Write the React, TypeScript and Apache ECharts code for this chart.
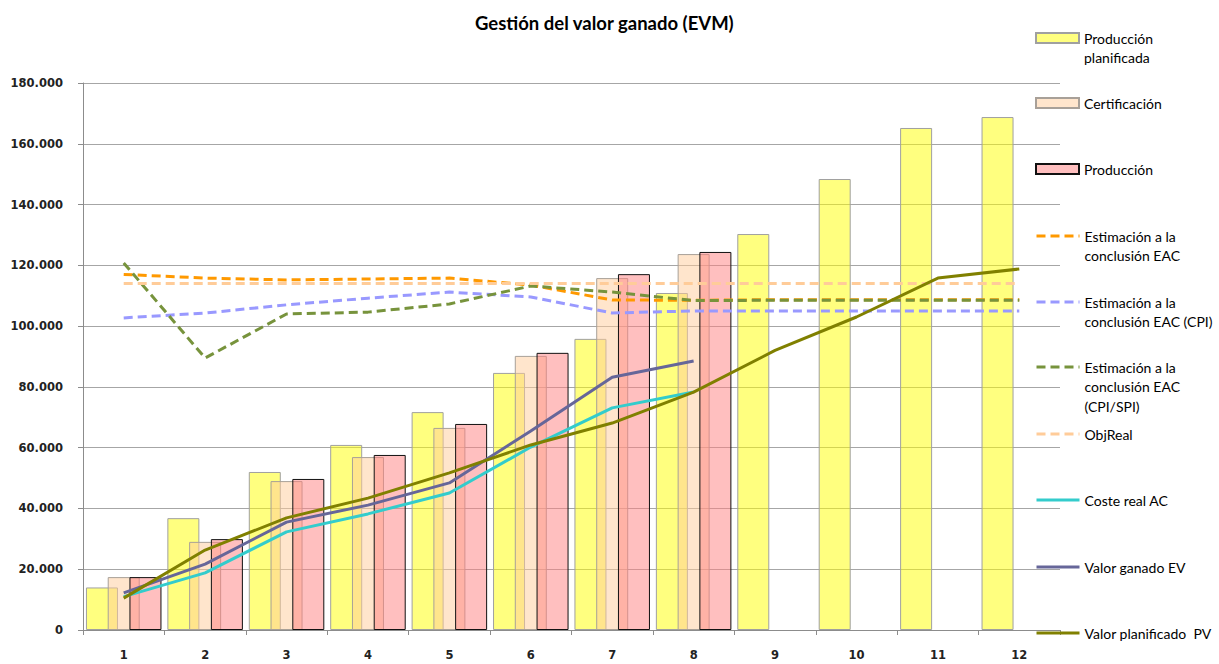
import React, { useEffect, useRef } from "react";
import * as echarts from "echarts";

const categories = ["1", "2", "3", "4", "5", "6", "7", "8", "9", "10", "11", "12"];
const producionPlanificada = [14000, 36800, 52000, 60900, 71700, 84600, 95800, 110900, 130300, 148400, 165200, 168800];
const certificacion = [17400, 29000, 49000, 56900, 66500, 90200, 115800, 123700, null, null, null, null];
const produccion = [17400, 29900, 49700, 57600, 67800, 91200, 117100, 124400, null, null, null, null];
const eac = [117000, 115800, 115200, 115500, 115800, 113500, 108600, 108500, 108700, 108700, 108700, 108700];
const eacCpi = [102700, 104300, 107000, 109200, 111200, 109600, 104300, 105000, 105000, 105000, 105000, 105000];
const eacCpiSpi = [120800, 89500, 104000, 104600, 107300, 113200, 111200, 108400, 108500, 108500, 108500, 108500];
const objReal = [114000, 114000, 114000, 114000, 114000, 114000, 114000, 114000, 114000, 114000, 114000, 114000];
const costeReal = [11000, 18800, 32300, 38200, 45100, 60200, 73100, 78300, null, null, null, null];
const valorGanado = [12200, 21700, 35500, 41100, 48400, 65500, 83200, 88500, null, null, null, null];
const valorPlanificado = [10500, 26300, 36900, 43400, 51700, 60900, 68100, 78300, 92000, 103000, 115800, 118800];

const N = {
  pp: "Producción\nplanificada",
  cert: "Certificación",
  prod: "Producción",
  eac: "Estimación a la\nconclusión EAC",
  cpi: "Estimación a la\nconclusión EAC (CPI)",
  cpispi: "Estimación a la\nconclusión EAC\n(CPI/SPI)",
  obj: "ObjReal",
  ac: "Coste real AC",
  ev: "Valor ganado EV",
  pv: "Valor planificado  PV",
};
const legendOrder = [N.pp, N.cert, N.prod, N.eac, N.cpi, N.cpispi, N.obj, N.ac, N.ev, N.pv];
const legendIsBar = [true, true, true, false, false, false, false, false, false, false];

const fmt = (v: number) => String(v).replace(/\B(?=(\d{3})+(?!\d))/g, ".");

export default function App() {
  const ref = useRef<HTMLDivElement>(null);
  useEffect(() => {
    document.body.style.margin = "0";
    const chart = echarts.init(ref.current!, null, { renderer: "svg" });
    const L = 19.5;
    const iconCenters = [38, 103, 169, 236, 302, 367, 434, 500, 567, 633];
    const legends = legendOrder.map((name, i) => {
      const n = name.split("\n").length;
      const item: any = { name };
      if (legendIsBar[i]) item.icon = "rect";
      else item.itemStyle = { opacity: 0 };
      return {
        orient: "vertical",
        left: 1035,
        top: iconCenters[i] - ((2 * n - 1) * L) / 2,
        padding: 0,
        itemWidth: 43,
        itemHeight: 10,
        formatter: (nm: string) => "\n".repeat(n - 1) + nm,
        textStyle: { fontFamily: "Lato", fontSize: 14, color: "#000", lineHeight: L },
        lineStyle: { width: 3 },
        data: [item],
      };
    });
    const dashed = [9, 5];
    const lineSeries = (name: string, data: any[], color: string, dash: boolean) => ({
      name,
      type: "line",
      data,
      symbol: "none",
      lineStyle: { color, width: 3, type: dash ? dashed : "solid" },
      itemStyle: { color },
      connectNulls: false,
    });
    const option: any = {
      animation: false,
      backgroundColor: "#ffffff",
      title: {
        text: "Gestión del valor ganado (EVM)",
        left: 470,
        top: 8,
        textStyle: { fontFamily: "Lato", fontWeight: "bold", fontSize: 18.5, color: "#000" },
      },
      grid: { left: 83, right: 159, top: 83, bottom: 34, containLabel: false },
      legend: legends,
      xAxis: {
        type: "category",
        data: categories,
        boundaryGap: true,
        axisLine: { lineStyle: { color: "#8c8c8c", width: 1 } },
        axisTick: { show: true, length: 5, lineStyle: { color: "#8c8c8c" } },
        axisLabel: { margin: 19, fontFamily: "DejaVu Sans", fontWeight: "bold", fontSize: 11.5, color: "#222" },
        splitLine: { show: false },
      },
      yAxis: {
        type: "value",
        min: 0,
        max: 180000,
        interval: 20000,
        axisLine: { show: true, lineStyle: { color: "#8c8c8c", width: 1 } },
        axisTick: { show: true, length: 5, lineStyle: { color: "#8c8c8c" } },
        axisLabel: {
          margin: 20,
          fontFamily: "DejaVu Sans",
          fontWeight: "bold",
          fontSize: 11.5,
          color: "#222",
          formatter: (v: number) => fmt(v),
        },
        splitLine: { show: true, lineStyle: { color: "#a6a6a6", width: 1 } },
      },
      series: [
        {
          name: N.pp,
          type: "bar",
          data: producionPlanificada,
          barWidth: 32,
          barGap: "-32%",
          itemStyle: { color: "rgba(255,255,0,0.5)", borderColor: "#a0a0a0", borderWidth: 1 },
        },
        {
          name: N.cert,
          type: "bar",
          data: certificacion,
          barWidth: 32,
          barGap: "-32%",
          itemStyle: { color: "rgba(255,204,153,0.5)", borderColor: "#a8a098", borderWidth: 1 },
        },
        {
          name: N.prod,
          type: "bar",
          data: produccion,
          barWidth: 32,
          barGap: "-32%",
          itemStyle: { color: "rgba(255,128,128,0.5)", borderColor: "#111", borderWidth: 1 },
        },
        lineSeries(N.eac, eac, "#ff9900", true),
        lineSeries(N.cpi, eacCpi, "#9999ff", true),
        lineSeries(N.cpispi, eacCpiSpi, "#77933c", true),
        lineSeries(N.obj, objReal, "#ffcc99", true),
        lineSeries(N.ac, costeReal, "#33cccc", false),
        lineSeries(N.ev, valorGanado, "#666699", false),
        lineSeries(N.pv, valorPlanificado, "#808000", false),
      ],
    };
    chart.setOption(option);
    return () => chart.dispose();
  }, []);
  return <div ref={ref} style={{ width: 1219, height: 664 }} />;
}
